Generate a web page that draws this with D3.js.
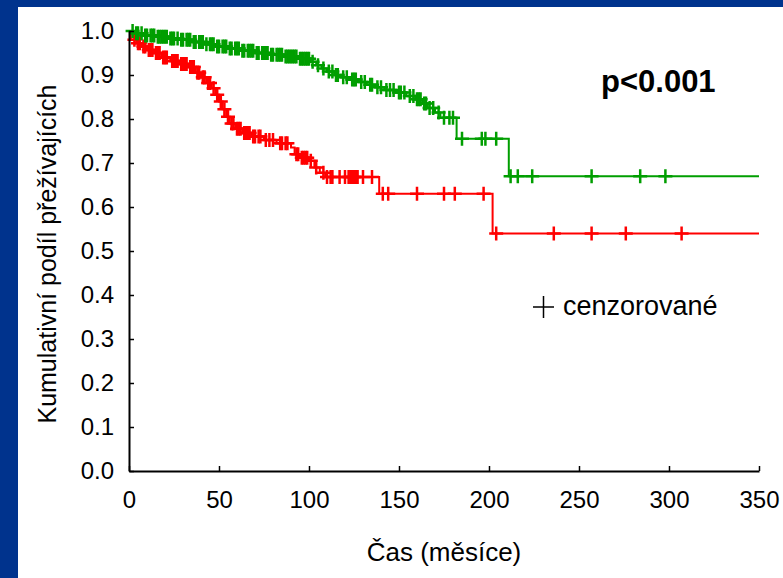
<!DOCTYPE html>
<html>
<head>
<meta charset="utf-8">
<script src="https://cdn.jsdelivr.net/npm/d3@7"></script>
<style>
  body { margin: 0; background: #00338d; }
  text { font-family: "Liberation Sans", Arial, sans-serif; fill: #000; }
</style>
</head>
<body>
<script>
var w = 783;
var h = 578;

var timeTicks = [0, 50, 100, 150, 200, 250, 300, 350];
var survTicks = [0.0, 0.1, 0.2, 0.3, 0.4, 0.5, 0.6, 0.7, 0.8, 0.9, 1.0];

// [time, survival after the drop]
var greenSteps = [
  [0, 1.0], [3, 0.995], [8, 0.99], [15, 0.987], [22, 0.983], [28, 0.98],
  [35, 0.975], [42, 0.97], [48, 0.965], [55, 0.96], [62, 0.955], [70, 0.95],
  [78, 0.946], [86, 0.942], [94, 0.937], [101, 0.93], [104, 0.922], [107, 0.915],
  [110, 0.908], [114, 0.9], [118, 0.895], [122, 0.89], [127, 0.884], [132, 0.878],
  [137, 0.872], [142, 0.866], [148, 0.86], [154, 0.852], [159, 0.845], [163, 0.835],
  [166, 0.825], [170, 0.815], [173, 0.803], [182, 0.755], [211, 0.67]
];
var greenCensored = [
  2, 4, 5, 7, 9, 10, 12, 13, 14, 16, 17, 18, 19, 20, 21, 23, 24, 25, 27, 29, 30,
  32, 33, 34, 36, 37, 39, 40, 41, 43, 45, 46, 47, 49, 50, 52, 53, 54, 56, 57, 59,
  60, 61, 63, 64, 66, 67, 68, 69, 71, 72, 74, 75, 76, 77, 79, 80, 82, 83, 84, 85,
  87, 88, 89, 90, 91, 92, 93, 95, 96, 97, 98, 99, 100, 102, 105, 108, 111, 113,
  115, 116, 119, 121, 124, 125, 126, 129, 131, 134, 135, 138, 140, 143, 145, 147,
  150, 151, 153, 156, 158, 160, 161, 162, 164, 165, 167, 169, 172, 175, 178, 180,
  185, 196, 198, 204, 212, 216, 224, 257, 284, 298
];

var redSteps = [
  [0, 1.0], [1, 0.98], [4, 0.972], [7, 0.965], [10, 0.957], [14, 0.95], [18, 0.94],
  [23, 0.932], [28, 0.925], [33, 0.918], [37, 0.905], [40, 0.895], [43, 0.882],
  [46, 0.87], [48, 0.855], [50, 0.84], [52, 0.822], [54, 0.805], [56, 0.79],
  [59, 0.778], [63, 0.768], [68, 0.76], [75, 0.752], [82, 0.745], [90, 0.735],
  [92, 0.72], [95, 0.712], [100, 0.705], [103, 0.69], [106, 0.678], [109, 0.668],
  [139, 0.63], [202, 0.54]
];
var redCensored = [
  3, 5, 6, 8, 9, 11, 12, 13, 15, 16, 17, 19, 20, 21, 24, 25, 26, 27, 29, 30, 31,
  32, 34, 35, 36, 38, 39, 41, 42, 44, 45, 47, 49, 51, 53, 55, 57, 58, 60, 61, 62,
  64, 65, 66, 67, 69, 70, 72, 73, 76, 78, 80, 84, 85, 87, 88, 93, 94, 96, 97, 98,
  99, 101, 104, 108, 110, 112, 113, 117, 120, 122, 123, 124, 125, 126, 127, 130,
  135, 141, 144, 160, 175, 181, 197, 204, 236, 257, 276, 307
];

var svg = d3.select("body")
            .append("svg")
            .attr("width", w)
            .attr("height", h);

// blue frame, white panel
svg.append("rect").attr("width", w).attr("height", h).attr("fill", "#00338d");
svg.append("rect").attr("x", 18).attr("y", 7).attr("width", w - 18).attr("height", h - 7).attr("fill", "#fff");

var x = d3.scaleLinear().domain([0, 350]).range([129, 759]);
var y = d3.scaleLinear().domain([0, 1]).range([471, 31]);

function survAt(steps, t) {
  var s = steps[0][1];
  steps.forEach(function(d){ if (d[0] <= t) s = d[1]; });
  return s;
}

var line = d3.line()
  .x(function(d){ return x(d[0]); })
  .y(function(d){ return y(d[1]); })
  .curve(d3.curveStepAfter);

function drawGroup(steps, censored, color) {
  var pts = steps.concat([[350, steps[steps.length - 1][1]]]);
  svg.append("path")
    .attr("d", line(pts))
    .attr("fill", "none")
    .attr("stroke", color)
    .attr("stroke-width", 2);

  var g = svg.append("g");
  censored.forEach(function(t){
    var cx = x(t), cy = y(survAt(steps, t));
    g.append("path")
      .attr("d", "M" + (cx - 7) + "," + cy + "H" + (cx + 7) + "M" + cx + "," + (cy - 7) + "V" + (cy + 7))
      .attr("stroke", color)
      .attr("stroke-width", 2.5)
      .attr("fill", "none");
  });
}

drawGroup(redSteps, redCensored, "#ff0000");
drawGroup(greenSteps, greenCensored, "#009e00");

// axes
var xAxis = d3.axisBottom(x).tickValues(timeTicks).tickSizeInner(-5).tickSizeOuter(0).tickPadding(20)
  .tickFormat(d3.format("d"));
var yAxis = d3.axisLeft(y).tickValues(survTicks).tickSizeInner(-5).tickSizeOuter(0).tickPadding(15)
  .tickFormat(d3.format(".1f"));

var gx = svg.append("g").attr("transform", "translate(0,471)").call(xAxis);
var gy = svg.append("g").attr("transform", "translate(129,0)").call(yAxis);
[gx, gy].forEach(function(g){
  g.select(".domain").attr("stroke", "#000").attr("stroke-width", 2);
  g.selectAll(".tick line").attr("stroke", "#000").attr("stroke-width", 1.5);
  g.selectAll(".tick text").style("font-size", "24px").attr("fill", "#000")
    .style("font-family", "'Liberation Sans', Arial, sans-serif");
});

svg.append("text")
  .attr("x", 444).attr("y", 561)
  .attr("text-anchor", "middle")
  .style("font-size", "26px")
  .text("Čas (měsíce)");

svg.append("text")
  .attr("transform", "translate(56,254) rotate(-90)")
  .attr("text-anchor", "middle")
  .style("font-size", "25px")
  .text("Kumulativní podíl přežívajících");

svg.append("text")
  .attr("x", 601).attr("y", 92)
  .style("font-size", "31px")
  .style("font-weight", "bold")
  .text("p<0.001");

// legend
svg.append("path")
  .attr("d", "M533,307H554M543.5,296V318")
  .attr("stroke", "#000")
  .attr("stroke-width", 1.5);
svg.append("text")
  .attr("x", 563).attr("y", 315)
  .style("font-size", "27px")
  .text("cenzorované");
</script>
</body>
</html>
